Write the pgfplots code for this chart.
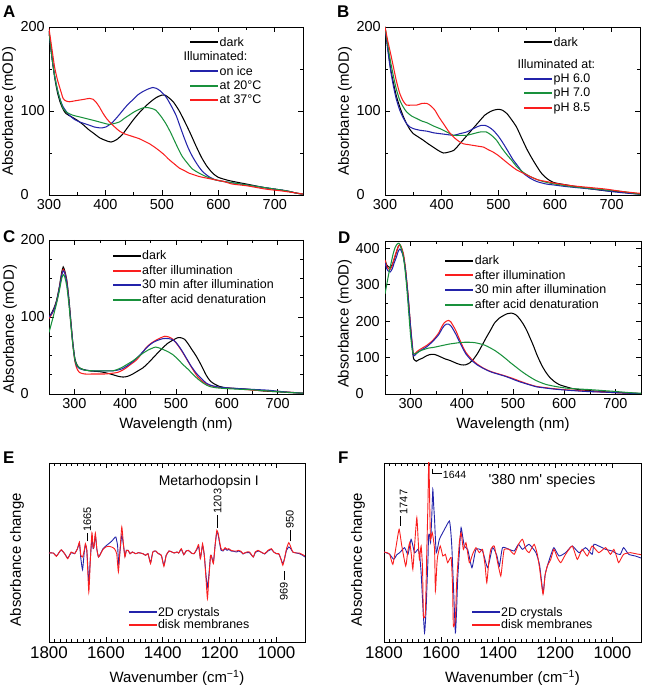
\documentclass[border=0pt]{standalone}
\usepackage{pgfplots}
\pgfplotsset{compat=1.18}
\usepackage{fontspec}
\setmainfont{Liberation Sans}
\definecolor{cblue}{RGB}{35,35,170}
\definecolor{cgreen}{RGB}{25,145,60}
\definecolor{cred}{RGB}{250,30,30}
\newcommand{\fs}[1]{\fontsize{#1}{#1}\selectfont}
\pgfplotsset{legend image code/.code={\fill[#1, draw=none] (0bp,-1bp) rectangle (28bp,1bp);}}
\pgfplotsset{
  panel/.style={
    scale only axis,
    axis line style={line width=0.9pt},
    every tick/.style={black, line width=0.6pt},
    major tick length=5bp, minor tick length=3bp,
    tick align=inside,
    ticklabel style={font=\fs{14.5}},
    yticklabel style={anchor=west, xshift=-32bp},
    xticklabel style={yshift=-1bp},
    xlabel style={font=\fs{15}},
    ylabel style={font=\fs{15}},
    /pgf/number format/assume math mode=true,
    /pgf/number format/1000 sep={},
    legend cell align=left,
    legend style={draw=none, fill=none, font=\fs{12.5}, row sep=1bp, inner sep=0pt,
      nodes={inner sep=1.5bp}},
    every axis plot/.append style={line width=1.05pt, smooth, tension=0.4},
  },
  uv/.style={xmin=250, xmax=750, xtick={300,400,...,700}, minor xtick={250,350,...,750}},
  ir/.style={x dir=reverse, xmin=900, xmax=1800, ymin=-27, ymax=26.7, ytick=\empty,
    xtick={1000,1200,...,1800}, minor x tick num=9,
    xticklabel style={font=\fs{17}},
    xlabel={Wavenumber (cm\textsuperscript{−1})},
    xlabel style={at={(axis description cs:0.5,-0.2)}, anchor=center},
    ylabel={Absorbance change},
    legend style={font=\fs{12.5}, row sep=-1bp},
    every axis plot/.append style={line width=0.9pt, tension=0.3}},
}
\begin{document}
\begin{tikzpicture}
\useasboundingbox (0,0) rectangle (647bp,685bp);
% panel letters
\node[anchor=north west, inner sep=0pt, font=\bfseries\fs{17}] at (3bp,679bp) {A};
\node[anchor=north west, inner sep=0pt, font=\bfseries\fs{17}] at (337bp,679bp) {B};
\node[anchor=north west, inner sep=0pt, font=\bfseries\fs{17}] at (3bp,455bp) {C};
\node[anchor=north west, inner sep=0pt, font=\bfseries\fs{17}] at (338bp,453bp) {D};
\node[anchor=north west, inner sep=0pt, font=\bfseries\fs{17}] at (3bp,233bp) {E};
\node[anchor=north west, inner sep=0pt, font=\bfseries\fs{17}] at (338bp,233bp) {F};

% ---------------- A ----------------
\begin{axis}[panel, at={(49bp,490bp)}, anchor=south west, width=254bp, height=168bp,
  xmin=300, xmax=750, xtick={300,400,...,700}, minor xtick={350,450,...,750},
  ymin=0, ymax=200, ytick={0,100,200}, minor ytick={50,150},
  ylabel={Absorbance (mOD)},
  ylabel style={at={(axis description cs:-0.157,0.5)}, anchor=center},
  legend style={at={(0.555,0.95)}, anchor=north west}]
\addplot[black] coordinates {(300,195)(305,165)(310,140)(315,122)(320,110)(325,102)(330,97)(340,93)(350,89)(360,84)(370,78)(380,73)(390,68)(400,65)(410,63)(420,66)(430,72)(440,81)(450,90)(460,98)(470,105)(480,111)(490,116)(500,119)(505,119)(510,117)(520,111)(530,101)(540,88)(550,74)(560,59)(570,45)(580,34)(590,26)(600,21)(620,17)(650,13)(680,9)(700,7)(720,5)(740,2)(750,1)};
\addlegendentry{dark}
\addlegendimage{empty legend}
\addlegendentry{\hspace*{-36bp}Illuminated:}
\addplot[cblue] coordinates {(300,195)(305,165)(310,142)(315,125)(320,113)(325,105)(330,100)(336,95)(345,90)(354,87)(363,85)(372,83)(380,81)(389,80)(395,80)(401,81)(410,85)(416,89)(425,96)(431,101)(440,108)(448,113)(457,119)(466,123)(475,126)(484,128)(490,127)(497,124)(507,117)(515,108)(525,95)(532,82)(539,69)(546,57)(554,46)(563,36)(572,28)(583,22)(595,18)(610,16)(630,14)(650,12)(680,9)(700,7)(720,5)(740,2)(750,1)};
\addlegendentry{on ice}
\addplot[cgreen] coordinates {(300,195)(305,165)(310,142)(315,125)(320,113)(325,103)(330,99)(342,95)(354,93)(366,91)(378,89)(389,87)(400,85)(407,84)(415,85)(425,87)(433,91)(442,95)(451,99)(460,102)(468,104)(475,104)(482,103)(489,101)(498,94)(507,85)(515,75)(522,65)(529,55)(536,46)(545,38)(554,31)(566,26)(578,22)(595,18)(610,16)(630,14)(650,12)(680,9)(700,7)(720,5)(740,2)(750,1)};
\addlegendentry{at 20°C}
\addplot[cred] coordinates {(300,198)(305,175)(310,152)(315,137)(319,128)(325,115)(330,112)(336,111)(345,112)(354,113)(363,114)(372,115)(378,114)(384,110)(390,104)(395,98)(402,91)(410,85)(418,80)(425,76)(433,73)(442,71)(451,69)(460,67)(469,64)(478,61)(487,57)(495,53)(504,48)(513,42)(522,37)(531,32)(540,29)(548,26)(557,24)(566,22)(580,20)(595,18)(610,16)(625,13)(650,11)(684,7)(710,5)(742,2)(750,1)};
\addlegendentry{at 37°C}
\end{axis}

% ---------------- B ----------------
\begin{axis}[panel, at={(385bp,490bp)}, anchor=south west, width=255bp, height=168bp,
  xmin=300, xmax=750, xtick={300,400,...,700}, minor xtick={350,450,...,750},
  ymin=0, ymax=200, ytick={0,100,200}, minor ytick={50,150},
  ylabel={Absorbance (mOD)},
  ylabel style={at={(axis description cs:-0.157,0.5)}, anchor=center},
  legend style={at={(0.545,0.95)}, anchor=north west}]
\addplot[black] coordinates {(300,200)(305,175)(310,150)(315,133)(320,118)(326,105)(332,94)(338,85)(344,78)(350,73)(359,69)(368,65)(376,61)(385,57)(394,53)(403,50)(412,51)(421,53)(427,57)(432,61)(441,68)(450,75)(459,82)(468,89)(476,95)(485,99)(492,101)(500,102)(507,101)(515,97)(523,90)(532,81)(541,68)(550,55)(559,44)(568,34)(576,26)(585,20)(597,15)(620,12)(656,8)(690,5)(715,4)(735,2)(750,1)};
\addlegendentry{dark}
\addlegendimage{empty legend}
\addlegendentry{\raisebox{0pt}[17bp][9bp]{\hspace*{-36bp}Illuminated at:}}
\addplot[cblue] coordinates {(300,200)(305,172)(310,148)(315,129)(320,114)(326,101)(332,92)(338,85)(344,81)(350,79)(362,77)(374,76)(386,74)(397,73)(409,72)(421,71)(432,73)(444,75)(453,78)(462,81)(470,83)(476,83)(483,81)(491,77)(500,70)(509,61)(518,51)(526,42)(535,34)(544,26)(556,20)(568,16)(585,13)(597,12)(620,10)(650,8)(680,6)(700,4)(730,2)(750,1)};
\addlegendentry{pH 6.0}
\addplot[cgreen] coordinates {(300,200)(305,178)(310,158)(315,141)(320,126)(326,113)(332,105)(338,99)(347,94)(356,91)(365,88)(374,86)(386,82)(397,79)(409,75)(421,71)(432,71)(444,71)(456,73)(468,75)(479,75)(488,71)(497,65)(506,56)(515,48)(524,41)(532,34)(544,27)(556,22)(570,18)(585,15)(600,13)(630,10)(660,8)(690,6)(720,4)(750,1)};
\addlegendentry{pH 7.0}
\addplot[cred] coordinates {(300,200)(305,183)(310,168)(315,152)(320,136)(326,121)(332,112)(338,107)(347,107)(356,107)(365,109)(374,109)(381,106)(388,101)(395,93)(403,85)(412,76)(421,69)(430,64)(438,61)(447,60)(456,59)(465,58)(474,57)(482,54)(491,51)(500,47)(509,42)(520,36)(532,30)(544,26)(556,22)(570,18)(585,16)(600,14)(630,11)(660,9)(690,7)(720,4)(750,2)};
\addlegendentry{pH 8.5}
\end{axis}

% ---------------- C ----------------
\begin{axis}[panel, uv, at={(49bp,291bp)}, anchor=south west, width=254bp, height=154bp,
  ymin=0, ymax=200, ytick={0,100,200}, minor y tick num=3,
  ylabel={Absorbance (mOD)}, xlabel={Wavelength (nm)},
  ylabel style={at={(axis description cs:-0.154,0.42)}, anchor=center},
  xlabel style={at={(axis description cs:0.5,-0.2)}, anchor=center},
  legend style={at={(0.25,0.94)}, anchor=north west}]
\addplot[black] coordinates {(250,100)(255,105)(260,112)(265,122)(270,138)(275,158)(278,165)(281,160)(285,148)(289,125)(293,95)(297,66)(301,46)(305,38)(310,34)(317,32)(330,30)(350,29)(365,27)(376,25)(386,23)(396,22)(405,23)(415,26)(425,30)(435,34)(445,40)(455,47)(465,54)(474,60)(484,66)(494,70)(503,73)(510,73)(517,71)(523,66)(530,59)(540,49)(550,37)(559,25)(566,18)(573,14)(585,10)(599,8)(620,7)(645,6)(670,4)(697,3)(720,2)(750,1)};
\addlegendentry{dark}
\addplot[cred] coordinates {(250,98)(255,103)(260,110)(265,120)(270,136)(275,155)(278,162)(281,158)(285,146)(289,122)(293,92)(297,64)(301,42)(305,33)(310,28)(320,26)(340,26)(360,26)(375,27)(385,28)(395,31)(402,34)(412,39)(422,44)(432,52)(441,60)(451,66)(461,70)(470,73)(478,75)(486,74)(494,71)(504,63)(514,53)(524,42)(533,32)(543,22)(553,16)(563,12)(573,10)(590,8)(620,7)(650,5)(680,4)(710,3)(750,1)};
\addlegendentry{after illumination}
\addplot[cblue] coordinates {(250,100)(255,104)(260,110)(265,120)(270,136)(275,154)(278,160)(281,157)(285,145)(289,122)(293,93)(297,65)(301,44)(305,36)(310,33)(320,31)(340,30)(360,30)(375,30)(385,31)(395,33)(405,37)(415,42)(425,48)(435,55)(445,62)(455,67)(465,70)(475,72)(485,72)(492,71)(500,67)(510,58)(520,47)(530,36)(540,27)(550,20)(560,14)(570,11)(585,9)(600,8)(625,7)(650,6)(680,5)(710,3)(750,1)};
\addlegendentry{30 min after illumination}
\addplot[cgreen] coordinates {(250,80)(255,92)(260,105)(265,118)(270,133)(275,150)(278,155)(281,152)(285,140)(289,118)(293,90)(297,63)(301,44)(305,37)(310,34)(320,31)(340,30)(360,30)(375,30)(385,32)(395,35)(405,39)(415,43)(425,48)(435,53)(445,57)(455,60)(460,61)(466,60)(474,58)(484,55)(494,51)(504,45)(514,38)(524,32)(534,25)(544,19)(554,14)(565,10)(580,8)(600,7)(630,6)(660,5)(700,3)(750,1)};
\addlegendentry{after acid denaturation}
\end{axis}

% ---------------- D ----------------
\begin{axis}[panel, uv, at={(385bp,291bp)}, anchor=south west, width=256bp, height=153bp,
  ymin=0, ymax=420, ytick={0,100,...,400}, minor y tick num=1,
  yticklabel style={xshift=-1bp},
  ylabel={Absorbance (mOD)}, xlabel={Wavelength (nm)},
  ylabel style={at={(axis description cs:-0.157,0.46)}, anchor=center},
  xlabel style={at={(axis description cs:0.5,-0.2)}, anchor=center},
  legend style={at={(0.235,0.915)}, anchor=north west}]
\addplot[black] coordinates {(250,370)(253,355)(256,350)(260,347)(264,355)(268,370)(272,388)(276,405)(279,409)(282,400)(286,380)(290,340)(295,268)(300,180)(305,103)(308,93)(311,90)(316,94)(324,99)(330,104)(337,108)(345,109)(352,106)(360,101)(368,96)(375,93)(382,89)(390,84)(399,80)(407,80)(415,85)(423,96)(431,112)(439,132)(447,153)(456,175)(464,195)(473,208)(481,215)(488,220)(497,222)(505,218)(512,208)(520,192)(527,174)(533,155)(540,132)(546,110)(551,94)(558,74)(565,58)(571,47)(580,35)(590,26)(603,20)(616,15)(630,12)(642,10)(670,7)(694,5)(720,3)(750,1)};
\addlegendentry{dark}
\addplot[cred] coordinates {(250,368)(253,352)(256,345)(260,342)(264,352)(268,372)(272,390)(276,405)(279,410)(282,403)(286,385)(290,345)(295,272)(300,185)(305,115)(308,110)(312,116)(318,122)(325,128)(332,134)(340,143)(347,153)(355,168)(361,185)(366,196)(370,200)(374,202)(378,199)(382,190)(388,175)(395,152)(402,130)(408,114)(415,102)(421,93)(430,82)(441,72)(451,65)(460,60)(472,55)(486,49)(499,43)(512,36)(528,28)(545,21)(560,18)(577,15)(600,12)(642,8)(680,5)(710,3)(750,1)};
\addlegendentry{after illumination}
\addplot[cblue] coordinates {(250,360)(253,345)(256,338)(260,335)(264,343)(268,360)(272,375)(276,392)(279,398)(282,392)(286,376)(290,340)(295,268)(300,182)(305,110)(308,106)(312,112)(318,118)(325,124)(332,130)(340,140)(347,150)(355,163)(361,178)(366,188)(370,192)(374,192)(378,188)(382,180)(388,165)(395,145)(402,125)(408,110)(415,98)(421,90)(430,80)(441,71)(451,64)(460,59)(472,54)(486,48)(499,41)(512,34)(528,27)(545,20)(560,17)(577,14)(600,11)(642,7)(680,5)(710,3)(750,1)};
\addlegendentry{30 min after illumination}
\addplot[cgreen] coordinates {(250,275)(254,305)(258,335)(262,360)(266,385)(270,403)(274,412)(277,414)(280,408)(284,390)(288,355)(292,300)(296,230)(300,160)(304,115)(308,110)(312,112)(318,118)(326,122)(335,126)(345,128)(355,131)(365,134)(375,137)(385,139)(395,141)(405,142)(415,142)(425,141)(435,138)(445,134)(455,127)(465,119)(475,109)(485,98)(495,86)(505,75)(515,64)(525,54)(535,45)(545,37)(555,31)(565,26)(578,22)(590,19)(605,16)(625,14)(650,12)(680,9)(700,7)(725,4)(750,2)};
\addlegendentry{after acid denaturation}
\end{axis}

% ---------------- E ----------------
\begin{axis}[panel, ir, at={(49bp,43bp)}, anchor=south west, width=256bp, height=179bp,
  ylabel style={at={(axis description cs:-0.125,0.46)}, anchor=center},
  legend style={at={(0.31,0.205)}, anchor=north west}]
\addplot[cblue] coordinates {(1800,-0.3)(1785,-0.3)(1774,-1.2)(1765,-0.2)(1757,0.6)(1745,-0.5)(1734,-1.8)(1722,-0.2)(1710,-0.5)(1700,1.0)(1693,2.5)(1688,-2.0)(1682,-5.3)(1676,0.0)(1672,2.0)(1667,0.5)(1660,-9.0)(1655,-2.5)(1649,4.5)(1645,1.0)(1642,1.5)(1637,5.0)(1632,1.0)(1626,-1.5)(1618,-0.3)(1610,1.0)(1600,1.8)(1590,2.5)(1580,3.2)(1570,4.2)(1565,4.5)(1559,2.0)(1555,-3.5)(1550,0.5)(1544,5.0)(1538,2.0)(1533,-1.2)(1528,0.5)(1522,0.5)(1515,-0.5)(1507,0.0)(1495,-0.5)(1485,-0.2)(1470,-0.5)(1460,-1.0)(1452,-0.5)(1443,-3.2)(1435,0.0)(1425,0.3)(1415,-0.5)(1405,-1.0)(1396,-4.0)(1388,-1.0)(1378,0.3)(1368,0.0)(1360,-0.3)(1350,0.0)(1344,-0.3)(1335,0.8)(1326,-0.8)(1318,0.3)(1310,0.5)(1300,-0.3)(1290,-0.5)(1280,0.8)(1274,1.8)(1268,-1.8)(1264,0.0)(1260,2.0)(1254,-1.0)(1248,-7.0)(1243,-10.5)(1238,-7.0)(1232,-1.0)(1228,-1.5)(1222,-3.0)(1216,2.0)(1210,6.0)(1205,5.0)(1200,2.5)(1195,0.5)(1188,0.3)(1181,1.0)(1174,0.5)(1168,0.8)(1160,0.3)(1150,0.2)(1140,0.0)(1135,0.3)(1125,0.0)(1118,-0.6)(1112,-0.3)(1105,-0.2)(1095,-0.2)(1082,-1.5)(1075,-0.2)(1065,0.3)(1055,0.0)(1042,-0.6)(1030,0.3)(1018,0.8)(1010,0.0)(1000,-0.5)(992,-0.6)(985,-2.0)(978,-3.5)(972,-2.0)(965,0.5)(957,1.5)(950,1.0)(943,0.0)(930,-0.3)(920,-0.5)(908,-1.0)(900,-1.5)};
\addlegendentry{2D crystals}
\addplot[cred] coordinates {(1800,-0.3)(1785,-0.3)(1774,-1.3)(1765,-0.2)(1757,0.7)(1745,-0.5)(1734,-2.0)(1722,0.0)(1710,-0.5)(1700,1.0)(1693,3.0)(1688,-1.0)(1682,-1.5)(1676,0.5)(1672,2.5)(1667,0.5)(1660,-12.0)(1655,-3.0)(1649,5.8)(1645,1.5)(1642,1.5)(1637,5.7)(1632,1.0)(1626,-1.5)(1618,-0.5)(1610,0.8)(1600,1.5)(1590,1.7)(1580,1.5)(1570,1.0)(1562,-0.5)(1556,-6.0)(1550,1.0)(1544,7.5)(1538,2.0)(1533,-1.5)(1528,0.5)(1522,0.5)(1515,-0.5)(1507,0.0)(1495,-0.5)(1485,-0.2)(1470,-0.5)(1460,-1.0)(1452,-0.5)(1443,-3.5)(1435,0.0)(1425,0.3)(1415,-0.5)(1405,-1.0)(1396,-4.3)(1388,-1.0)(1378,0.3)(1368,0.0)(1360,-0.3)(1350,0.0)(1344,-0.3)(1335,1.0)(1326,-0.8)(1318,0.3)(1310,0.5)(1300,-0.3)(1290,-0.5)(1280,1.0)(1274,2.2)(1268,-2.0)(1264,0.0)(1260,2.5)(1254,-1.0)(1248,-8.0)(1243,-14.0)(1238,-8.0)(1232,-1.0)(1228,-1.5)(1222,-3.5)(1216,2.0)(1210,6.5)(1205,5.5)(1200,3.0)(1195,1.0)(1188,0.5)(1181,1.3)(1174,0.8)(1168,1.0)(1160,0.5)(1150,0.3)(1140,0.3)(1135,0.5)(1125,0.2)(1118,-0.5)(1112,-0.3)(1105,0.0)(1095,0.0)(1082,-1.5)(1075,0.0)(1065,0.5)(1055,0.0)(1042,-0.5)(1030,0.5)(1018,1.0)(1010,0.0)(1000,-0.5)(992,-0.5)(985,-2.0)(978,-4.0)(972,-2.0)(965,1.0)(957,2.8)(950,1.5)(943,0.0)(930,-0.3)(920,-0.3)(908,-0.8)(900,-1.2)};
\addlegendentry{disk membranes}
\node[font=\fs{14}] at (axis cs:1238,20.9) {Metarhodopsin I};
\draw[line width=0.8pt] (axis cs:1665,3.2) -- (axis cs:1665,5.8);
\node[rotate=90, font=\fs{11}] at (axis cs:1665,9.8) {1665};
\draw[line width=0.8pt] (axis cs:1207,7.2) -- (axis cs:1207,11);
\node[rotate=90, font=\fs{11}] at (axis cs:1207,15.3) {1203};
\draw[line width=0.8pt] (axis cs:953,3.2) -- (axis cs:953,6.5);
\node[rotate=90, font=\fs{11}] at (axis cs:953,9.8) {950};
\draw[line width=0.8pt] (axis cs:974,-5.8) -- (axis cs:974,-8.5);
\node[rotate=90, font=\fs{11}] at (axis cs:974,-11.8) {969};
\end{axis}

% ---------------- F ----------------
\begin{axis}[panel, ir, at={(384bp,43bp)}, anchor=south west, width=257bp, height=179bp,
  ylabel style={at={(axis description cs:-0.101,0.46)}, anchor=center},
  legend style={at={(0.34,0.205)}, anchor=north west}]
\addplot[cblue] coordinates {(1800,0)(1790,-0.3)(1780,-0.7)(1766,-2.2)(1755,-0.8)(1745,-0.2)(1728,1.3)(1716,-0.7)(1705,3.8)(1693,-0.2)(1681,0.8)(1675,-1.0)(1670,-6.2)(1664,-16)(1658,-24.2)(1653,-18)(1650,-11.2)(1646,-2)(1644,4.8)(1641,5.3)(1637,2.8)(1633,10)(1629,18.8)(1626,14)(1623,9.8)(1617,-0.2)(1606,3.8)(1588,6.8)(1571,9.3)(1566,6)(1562,0.8)(1556,-12)(1550,-24.2)(1546,-18)(1542,-8.2)(1536,0)(1530,7.3)(1519,1.8)(1507,0.8)(1492,-4.7)(1478,0.8)(1455,0.3)(1437,-4.7)(1420,1.3)(1405,-1.0)(1396,-4.2)(1385,1.3)(1362,0.8)(1344,0.3)(1329,2.3)(1315,0.8)(1292,2.3)(1268,-0.2)(1255,-4)(1243,-12.2)(1236,-7)(1228,-4.2)(1216,-1)(1205,1.3)(1187,-1.2)(1164,-0.2)(1141,1.8)(1117,-0.2)(1094,1.3)(1071,-0.7)(1065,2.3)(1048,1.8)(1024,0.8)(1001,0.3)(985,-0.5)(972,-0.7)(961,1.3)(943,-0.7)(920,-1.2)(900,-1.8)};
\addlegendentry{2D crystals}
\addplot[cred] coordinates {(1800,0)(1790,-0.2)(1780,-0.7)(1769,-3.7)(1757,2.0)(1747,6.8)(1738,2.0)(1724,-4.2)(1717,0)(1710,2.8)(1704,-1.0)(1699,-5.2)(1692,3.0)(1685,10.3)(1680,3.0)(1676,-2.2)(1670,1.8)(1665,-5)(1662,-19.2)(1655,-18.2)(1650,0.8)(1646,15)(1643,28.5)(1639,10)(1637,3.8)(1631,5.8)(1623,0.8)(1620,-11.7)(1615,-4)(1612,-1.2)(1603,1.8)(1594,-1.2)(1585,-0.7)(1577,-3.2)(1565,-1.7)(1560,-10)(1557,-22.2)(1550,-20.2)(1546,-10)(1542,-4.2)(1536,3)(1530,5.8)(1522,0.8)(1513,2.8)(1501,-3.2)(1490,-0.7)(1478,1.3)(1466,-0.2)(1455,0.8)(1446,-4)(1440,-9.2)(1433,-3)(1426,0.8)(1414,1.8)(1402,-3.2)(1391,-7.2)(1385,-3)(1379,0.8)(1362,0.8)(1344,-0.7)(1329,2.3)(1315,3.8)(1303,0.8)(1292,-0.2)(1274,2.3)(1263,-0.7)(1255,-5)(1243,-12.7)(1236,-7)(1228,-4.2)(1216,-2.2)(1205,0.8)(1193,-1.7)(1181,-3.2)(1164,-0.7)(1141,1.8)(1123,-2.2)(1106,0.8)(1088,-1.2)(1071,1.8)(1048,-0.2)(1024,1.3)(1007,-0.7)(995,0.8)(985,-1.5)(978,-3.2)(961,-0.7)(937,-0.2)(920,-0.5)(900,-0.8)};
\addlegendentry{disk membranes}
\node[font=\fs{14.5}] at (axis cs:1247,21.3) {\textquotesingle380 nm\textquotesingle\ species};
\draw[line width=0.8pt] (axis cs:1742,7.8) -- (axis cs:1742,10.8);
\node[rotate=90, font=\fs{11}] at (axis cs:1731,15) {1747};
\draw[line width=0.8pt] (axis cs:1629,25) -- (axis cs:1629,23.6) -- (axis cs:1598,23.6);
\node[font=\fs{10.5}, anchor=west, inner sep=0.5bp] at (axis cs:1596,23.2) {1644};
\end{axis}
\end{tikzpicture}
\end{document}
